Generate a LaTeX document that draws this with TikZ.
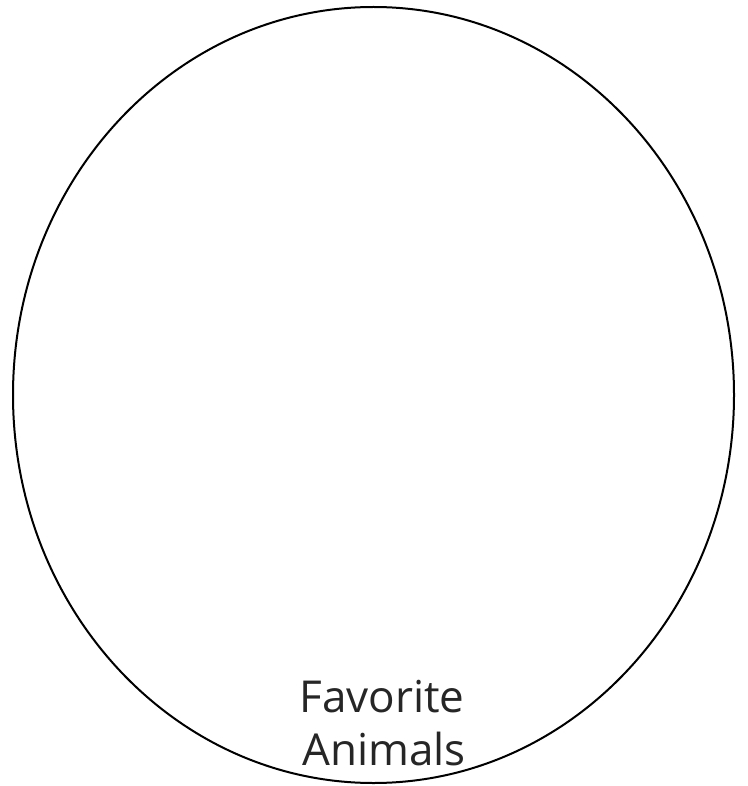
\documentclass[tikz,border=0pt]{standalone}
\usetikzlibrary{shapes.geometric}
\usepackage{fontspec}
\setmainfont{Open Sans}
\definecolor{txt}{HTML}{262626}
\begin{document}
\begin{tikzpicture}[x=1pt,y=-1pt,
  lbl/.style={font=\fontsize{44}{53}\selectfont, text=txt, inner sep=0pt, anchor=base}]
\useasboundingbox (0,0) rectangle (747,786);
\node[draw=black, line width=2pt, ellipse, minimum width=721pt, minimum height=776pt, inner sep=0pt] (circ) at (373.5,395) {};
\node[lbl] (t1) at (382,712) {Favorite};
\node[lbl] (t2) at (384,765) {Animals};
\end{tikzpicture}
\end{document}
